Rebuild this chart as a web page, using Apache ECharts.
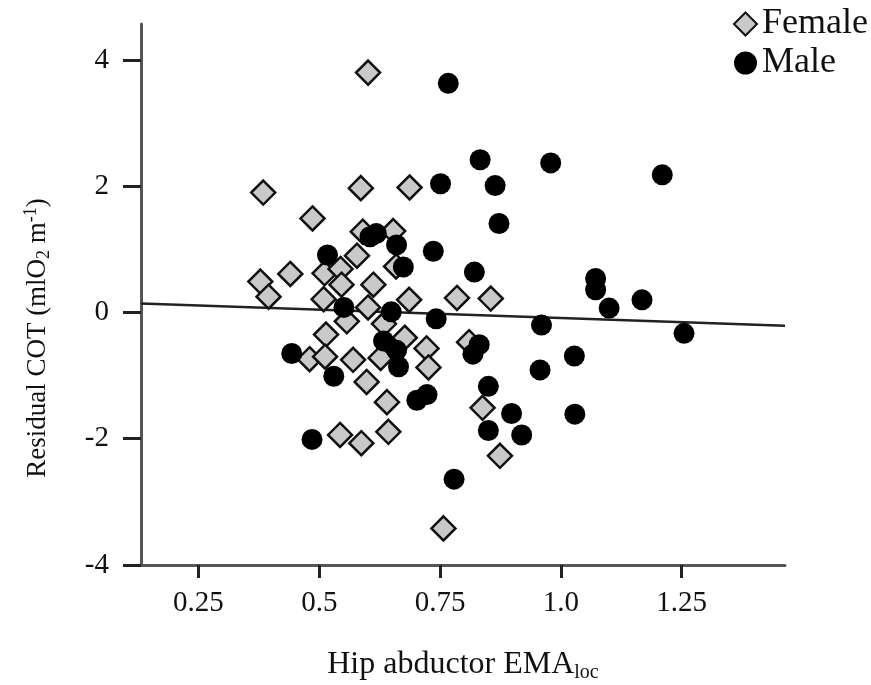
<!DOCTYPE html>
<html>
<head>
<meta charset="utf-8">
<script src="https://cdn.jsdelivr.net/npm/echarts@6/dist/echarts.min.js"></script>
<style>
  html, body { margin: 0; padding: 0; background: #fff; }
  #chart { width: 871px; height: 685px; }
</style>
</head>
<body>
<div id="chart"></div>
<script>
// Hip abductor EMA (loc) vs residual cost of transport, by sex
const femaleEMA = [0.601, 0.384, 0.586, 0.687, 0.486, 0.590, 0.653, 0.578, 0.378, 0.440,
                   0.511, 0.544, 0.546, 0.395, 0.509, 0.612, 0.659, 0.686, 0.785, 0.855,
                   0.601, 0.557, 0.514, 0.480, 0.512, 0.570, 0.634, 0.677, 0.627, 0.722,
                   0.726, 0.810, 0.598, 0.640, 0.643, 0.587, 0.543, 0.838, 0.874, 0.757];
const femaleCOT = [3.80, 1.90, 1.97, 1.98, 1.49, 1.28, 1.29, 0.90, 0.49, 0.61,
                   0.62, 0.69, 0.44, 0.25, 0.21, 0.44, 0.73, 0.20, 0.23, 0.22,
                   0.08, -0.14, -0.35, -0.74, -0.70, -0.75, -0.18, -0.40, -0.72, -0.57,
                   -0.87, -0.47, -1.10, -1.42, -1.89, -2.07, -1.94, -1.51, -2.27, -3.42];

const maleEMA = [0.767, 0.833, 0.979, 0.751, 0.864, 1.210, 0.872, 0.605, 0.618, 0.660,
                 0.517, 0.736, 0.674, 0.821, 1.072, 1.072, 1.100, 1.168, 0.551, 0.649,
                 0.742, 0.960, 1.255, 0.831, 0.818, 1.028, 0.957, 0.850, 0.898, 1.029,
                 0.850, 0.919, 0.779, 0.633, 0.660, 0.664, 0.443, 0.530, 0.485, 0.702, 0.723];
const maleCOT = [3.63, 2.42, 2.37, 2.04, 2.01, 2.18, 1.41, 1.20, 1.25, 1.07,
                 0.91, 0.97, 0.72, 0.64, 0.54, 0.36, 0.07, 0.20, 0.08, 0.01,
                 -0.10, -0.20, -0.33, -0.51, -0.66, -0.69, -0.91, -1.17, -1.60, -1.61,
                 -1.87, -1.94, -2.64, -0.45, -0.60, -0.86, -0.65, -1.01, -2.01, -1.39, -1.30];

// Least-squares fit drawn across the full x range
const fitEMA = [0.131, 1.464];
const fitCOT = [0.141, -0.209];

const xTicks = [0.25, 0.5, 0.75, 1.0, 1.25];
const xTickLabels = ['0.25', '0.5', '0.75', '1.0', '1.25'];
const yTicks = [-4, -2, 0, 2, 4];

const zip = (xs, ys) => xs.map((x, i) => [x, ys[i]]);

const FONT = '"Liberation Serif", "Times New Roman", serif';
const INK = '#111';

const chart = echarts.init(document.getElementById('chart'), null, { renderer: 'canvas' });

chart.setOption({
  backgroundColor: '#ffffff',
  animation: false,
  grid: { left: 141, right: 86, top: 24, bottom: 120, containLabel: false, outerBoundsMode: 'none' },
  legend: {
    orient: 'vertical',
    left: 733,
    top: 6,
    padding: 0,
    itemWidth: 23,
    itemHeight: 23,
    itemGap: 3,
    textStyle: { fontFamily: FONT, fontSize: 36, color: INK },
    data: [
      { name: 'Female', icon: 'diamond' },
      { name: 'Male', icon: 'circle' }
    ]
  },
  xAxis: {
    type: 'value',
    min: 0.131,
    max: 1.464,
    name: '{a|Hip abductor EMA}{sub|loc}',
    nameLocation: 'middle',
    nameGap: 82,
    nameTextStyle: {
      rich: {
        a: { fontFamily: FONT, fontSize: 32, color: INK, lineHeight: 36 },
        sub: { fontFamily: FONT, fontSize: 20, color: INK, lineHeight: 15, verticalAlign: 'bottom' }
      }
    },
    axisLine: { show: true, onZero: false, lineStyle: { color: '#555', width: 3 } },
    axisTick: { show: true, length: 13, lineStyle: { color: '#222', width: 3 }, customValues: xTicks },
    axisLabel: {
      customValues: xTicks,
      margin: 24,
      fontFamily: FONT, fontSize: 29, color: INK,
      formatter: (v) => xTickLabels[xTicks.indexOf(v)] ?? ''
    },
    splitLine: { show: false }
  },
  yAxis: {
    type: 'value',
    min: -4,
    max: 4.57,
    interval: 2,
    axisLine: { show: true, onZero: false, lineStyle: { color: '#555', width: 3 } },
    axisTick: { show: true, length: 18, lineStyle: { color: '#222', width: 3 }, customValues: yTicks },
    axisLabel: {
      customValues: yTicks,
      margin: 32,
      fontFamily: FONT, fontSize: 29, color: INK
    },
    splitLine: { show: false }
  },
  graphic: [
    {
      type: 'text',
      x: 38,
      y: 338,
      rotation: Math.PI / 2,
      style: {
        text: '{a|Residual COT (mlO}{sub|2}{a| m}{sup|-1}{a|)}',
        align: 'center',
        verticalAlign: 'middle',
        rich: {
          a: { fontFamily: FONT, fontSize: 27, fill: INK, lineHeight: 31 },
          sub: { fontFamily: FONT, fontSize: 18, fill: INK, lineHeight: 14, verticalAlign: 'bottom' },
          sup: { fontFamily: FONT, fontSize: 18, fill: INK, lineHeight: 19, verticalAlign: 'top' }
        }
      }
    }
  ],
  series: [
    {
      name: 'Fit',
      type: 'line',
      data: zip(fitEMA, fitCOT),
      showSymbol: false,
      symbol: 'none',
      lineStyle: { color: '#222', width: 2.5 },
      z: 1,
      silent: true
    },
    {
      name: 'Female',
      type: 'scatter',
      symbol: 'diamond',
      symbolSize: 24,
      data: zip(femaleEMA, femaleCOT),
      itemStyle: { color: '#c9c9c9', borderColor: '#111', borderWidth: 2.5, opacity: 1 },
      z: 2
    },
    {
      name: 'Male',
      type: 'scatter',
      symbol: 'circle',
      symbolSize: 21,
      data: zip(maleEMA, maleCOT),
      itemStyle: { color: '#000', opacity: 1 },
      z: 3
    }
  ]
});
</script>
</body>
</html>
